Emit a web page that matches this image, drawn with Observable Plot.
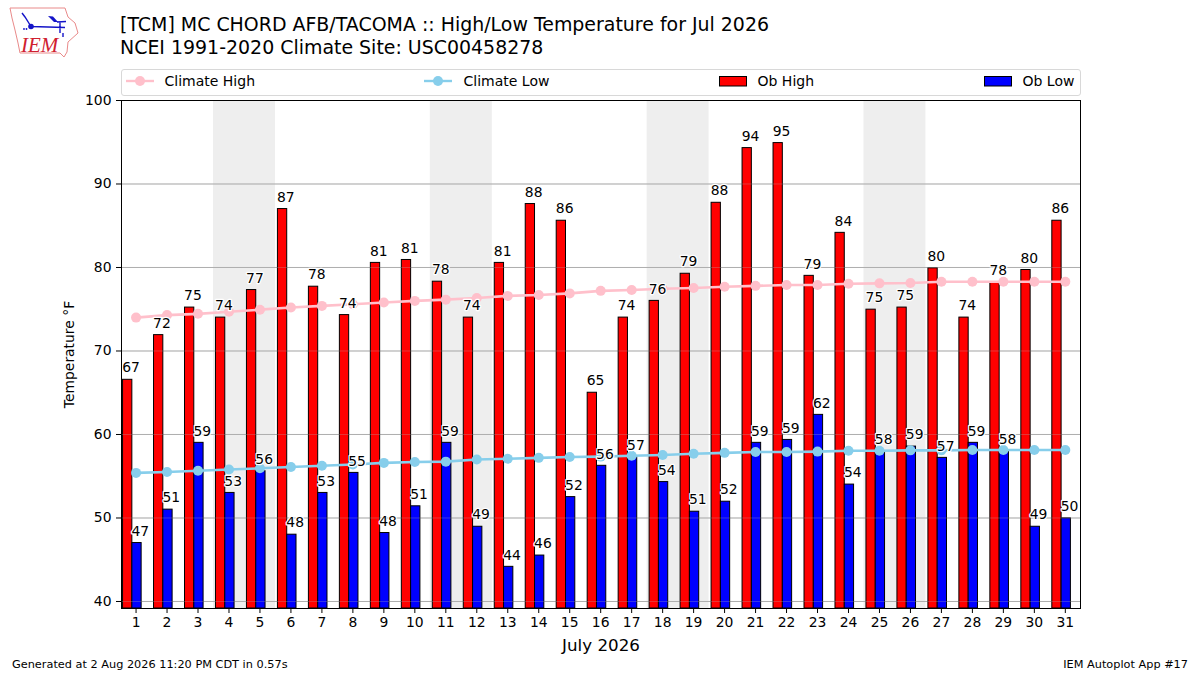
<!DOCTYPE html>
<html>
<head>
<meta charset="utf-8">
<script src="https://cdn.jsdelivr.net/npm/d3@7"></script>
<script src="https://cdn.jsdelivr.net/npm/@observablehq/plot@0.6"></script>
<style>
html,body{margin:0;padding:0;background:#fff;font-family:"DejaVu Sans",sans-serif;color:#000}
#page{position:relative;width:1200px;height:675px;overflow:hidden}
#head{position:relative;height:90px}
#logo{position:absolute;left:8px;top:6px}
#title{position:absolute;left:120px;top:12.5px;font-size:18.95px;line-height:23.4px;white-space:nowrap}
#legend{position:absolute;left:120.5px;top:69px;width:958px;height:24.5px;border:1px solid #d8d8d8;border-radius:3px;background:#fff;z-index:2}
.lg{position:absolute;top:0;height:25px;line-height:23px;font-size:14px;white-space:nowrap}
.lg svg{position:absolute;top:0;left:0}
#chart svg{display:block}
#chart g[aria-label="x-axis label"] text{font-size:16.7px}
#foot{position:absolute;left:12px;right:12px;top:658px;font-size:11.3px;line-height:14px;display:flex;justify-content:space-between}
</style>
</head>
<body>
<div id="page">
  <div id="head">
    <svg id="logo" width="74" height="54" viewBox="8 6 74 54">
      <path d="M10,8 L65,8 L68,17 L75,23 L78,33 L68,42 L67,52 L64,57 L60,53 L20,53 L18,43 L15,30 L12,18 Z" fill="#fff" stroke="#e98a8a" stroke-width="1"/>
      <path d="M31,26.5 L65,27.5 M60,22 L60,33 M22,13 L25,17 L31,26.5 M57,22 L66,21.5 M63,33 L63,37" stroke="#1414c8" stroke-width="1.4" fill="none"/>
      <path d="M48,16 L53,16.5 L58,22 L54,22 Z" fill="#1414c8"/>
      <circle cx="31" cy="26.5" r="2.8" fill="#1414c8"/>
      <circle cx="24" cy="29" r="0.9" fill="#1414c8"/>
      <circle cx="26.5" cy="29" r="0.9" fill="#1414c8"/>
      <text x="21" y="52" font-family="Liberation Serif" font-style="italic" font-size="21" fill="#d02030">IEM</text>
    </svg>
    <div id="title">[TCM] MC CHORD AFB/TACOMA :: High/Low Temperature for Jul 2026<br>NCEI 1991-2020 Climate Site: USC00458278</div>
    <div id="legend">
      <div class="lg" style="left:4px"><svg width="30" height="25"><line x1="0" x2="28" y1="11" y2="11" stroke="#FFC0CB" stroke-width="2.4"/><circle cx="14" cy="11" r="5" fill="#FFC0CB"/></svg><span style="margin-left:39px">Climate High</span></div>
      <div class="lg" style="left:302.5px"><svg width="30" height="25"><line x1="0" x2="28" y1="11" y2="11" stroke="#87CEEB" stroke-width="2.4"/><circle cx="14" cy="11" r="5" fill="#87CEEB"/></svg><span style="margin-left:39.5px">Climate Low</span></div>
      <div class="lg" style="left:597.5px"><svg width="30" height="25"><rect x="0.5" y="6.5" width="27" height="9.5" fill="#ff0000" stroke="#000"/></svg><span style="margin-left:38.5px">Ob High</span></div>
      <div class="lg" style="left:862.5px"><svg width="30" height="25"><rect x="0.5" y="6.5" width="27" height="9.5" fill="#0000ff" stroke="#000"/></svg><span style="margin-left:38.5px">Ob Low</span></div>
    </div>
  </div>
  <div id="chart"></div>
  <div id="foot"><span>Generated at 2 Aug 2026 11:20 PM CDT in 0.57s</span><span>IEM Autoplot App #17</span></div>
</div>
<script>
const days = d3.range(1, 32);
const weekendStarts = [4, 11, 18, 25];
const obHigh = [66.55, 71.9, 75.2, 74, 77.3, 87, 77.7, 74.3, 80.55, 80.9, 78.3, 74, 80.55, 87.6, 85.6, 65, 74, 76, 79.25, 87.75, 94.3, 94.9, 79, 84.15, 74.95, 75.2, 79.9, 74, 78.25, 79.7, 85.6];
const obLow = [47, 51, 59, 53, 55.6, 48, 53, 55.4, 48.2, 51.4, 59, 48.95, 44.15, 45.5, 52.5, 56.25, 57.3, 54.3, 50.75, 51.95, 59, 59.35, 62.35, 54, 58, 58.55, 57.2, 59, 58, 48.95, 49.95];
const highLabels = [67, 72, 75, 74, 77, 87, 78, 74, 81, 81, 78, 74, 81, 88, 86, 65, 74, 76, 79, 88, 94, 95, 79, 84, 75, 75, 80, 74, 78, 80, 86];
const lowLabels = [47, 51, 59, 53, 56, 48, 53, 55, 48, 51, 59, 49, 44, 46, 52, 56, 57, 54, 51, 52, 59, 59, 62, 54, 58, 59, 57, 59, 58, 49, 50];
const climateHigh = [74, 74.3, 74.45, 74.7, 74.95, 75.2, 75.4, 75.6, 75.8, 76, 76.15, 76.35, 76.6, 76.7, 76.9, 77.2, 77.3, 77.45, 77.55, 77.7, 77.8, 77.9, 77.9, 78.05, 78.1, 78.15, 78.3, 78.3, 78.3, 78.3, 78.3];
const climateLow = [55.4, 55.5, 55.65, 55.8, 55.95, 56.1, 56.25, 56.4, 56.6, 56.7, 56.75, 57, 57.1, 57.2, 57.3, 57.35, 57.45, 57.55, 57.7, 57.8, 57.9, 57.9, 57.95, 58.05, 58.05, 58.1, 58.1, 58.15, 58.15, 58.15, 58.15];
const yTicks = [40, 50, 60, 70, 80, 90, 100];
const yBottom = 39.16;

const rows = days.map((d, i) => ({
  d, high: obHigh[i], low: obLow[i], hl: highLabels[i], ll: lowLabels[i],
  ch: climateHigh[i], cl: climateLow[i]
}));
const barText = {
  fill: "#000", stroke: "#fff", strokeWidth: 2.5, textAnchor: "start",
  lineAnchor: "bottom", dx: -0.9, dy: -7.3, fontSize: 13.9
};

const plot = Plot.plot({
  width: 1200, height: 566,
  marginTop: 10, marginBottom: 48, marginLeft: 121, marginRight: 120,
  style: {fontFamily: "DejaVu Sans", fontSize: "13.9px", background: "transparent", color: "#000"},
  x: {domain: [0.53, 31.49], label: null},
  y: {domain: [yBottom, 100], label: null},
  marks: [
    Plot.rectY(weekendStarts, {x1: d => d - 0.5, x2: d => d + 1.5, y1: yBottom, y2: 100, fill: "#eeeeee"}),
    Plot.ruleY(yTicks, {stroke: "#b0b0b0", strokeWidth: 1}),
    Plot.rectY(rows, {x1: r => r.d - 0.42, x2: r => r.d - 0.12, y1: yBottom, y2: "high", fill: "#ff0000", stroke: "#000", strokeWidth: 1, clip: true}),
    Plot.rectY(rows, {x1: r => r.d - 0.12, x2: r => r.d + 0.18, y1: yBottom, y2: "low", fill: "#0000ff", stroke: "#000", strokeWidth: 1, clip: true}),
    Plot.ruleY(yTicks, {stroke: "#b0b0b0", strokeWidth: 1, strokeOpacity: 0.3}),
    Plot.lineY(rows, {x: "d", y: "ch", stroke: "#FFC0CB", strokeWidth: 2.6}),
    Plot.dot(rows, {x: "d", y: "ch", r: 5, fill: "#FFC0CB"}),
    Plot.lineY(rows, {x: "d", y: "cl", stroke: "#87CEEB", strokeWidth: 2.6}),
    Plot.dot(rows, {x: "d", y: "cl", r: 5, fill: "#87CEEB"}),
    Plot.text(rows, {x: r => r.d - 0.42, y: "high", text: "hl", ...barText}),
    Plot.text(rows, {x: r => r.d - 0.12, y: "low", text: "ll", ...barText}),
    Plot.frame({stroke: "#000", strokeWidth: 1}),
    Plot.axisX({ticks: days, tickFormat: d => d, tickSize: 5, tickPadding: 4, label: null}),
    Plot.axisX({ticks: [], label: "July 2026", labelAnchor: "center", labelArrow: "none", labelOffset: 42.5}),
    Plot.axisY({ticks: yTicks, tickSize: 5, tickPadding: 5, label: "Temperature °F", labelAnchor: "center", labelArrow: "none", labelOffset: 57})
  ]
});
document.getElementById("chart").appendChild(plot);
</script>
</body>
</html>
